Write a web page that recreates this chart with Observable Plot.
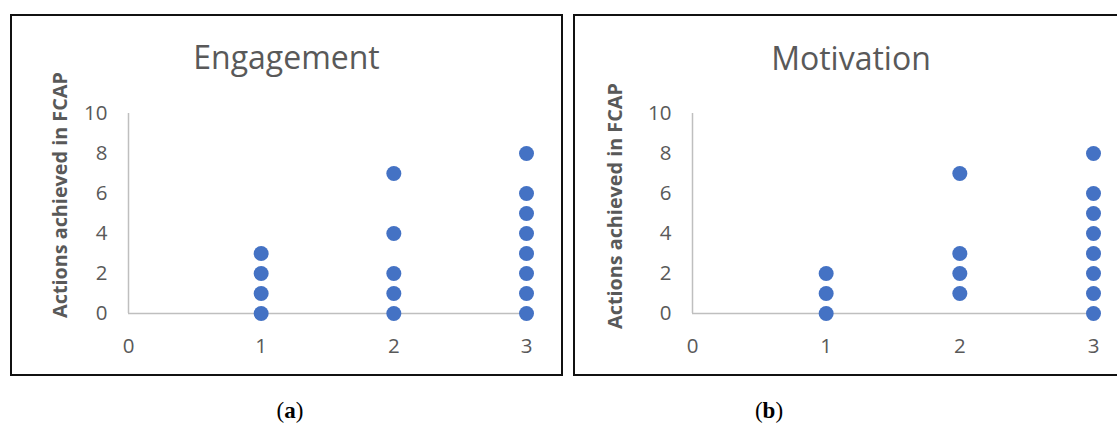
<!DOCTYPE html>
<html>
<head>
<meta charset="utf-8">
<script src="https://cdn.jsdelivr.net/npm/d3@7"></script>
<script src="https://cdn.jsdelivr.net/npm/@observablehq/plot@0.6"></script>
<style>
  html, body { margin: 0; padding: 0; background: #fff; overflow: hidden; }
  #page { position: relative; width: 1117px; height: 424px; }
  .panel { position: absolute; }
  .border { position: absolute; box-sizing: border-box; border: 2px solid #111; pointer-events: none; z-index: 3; }
  #overlay { position: absolute; left: 0; top: 0; z-index: 2; pointer-events: none; }
</style>
</head>
<body>
<div id="page"></div>
<script>
// ---- data ----
const panelTitles = ["Engagement", "Motivation"];
const panelCaptions = ["a", "b"];
const yAxisTitle = "Actions achieved in FCAP";
const xTicks = [0, 1, 2, 3];
const yTicks = [0, 2, 4, 6, 8, 10];

const engagementX = [1, 1, 1, 1, 2, 2, 2, 2, 2, 3, 3, 3, 3, 3, 3, 3, 3];
const engagementY = [0, 1, 2, 3, 0, 1, 2, 4, 7, 0, 1, 2, 3, 4, 5, 6, 8];
const motivationX = [1, 1, 1, 2, 2, 2, 2, 3, 3, 3, 3, 3, 3, 3, 3];
const motivationY = [0, 1, 2, 1, 2, 3, 7, 0, 1, 2, 3, 4, 5, 6, 8];

const page = document.getElementById("page");
const gray = "#595959";
const dotColor = "#4472C4";
const axisColor = "#BFBFBF";

function makePlot(xs, ys, opts) {
  const data = xs.map((x, i) => ({x, y: ys[i]}));
  return Plot.plot({
    width: opts.width,
    height: opts.height,
    marginLeft: opts.marginLeft,
    marginRight: opts.marginRight,
    marginTop: opts.marginTop,
    marginBottom: opts.marginBottom,
    style: {fontFamily: "'Open Sans', sans-serif", fontSize: "20px", color: gray, background: "transparent", overflow: "visible"},
    x: {domain: [0, 3]},
    y: {domain: [0, 10]},
    marks: [
      Plot.axisX({ticks: xTicks, tickSize: 0, tickPadding: 25, fontSize: 20.5, label: null, tickFormat: d => String(d)}),
      Plot.axisY({ticks: yTicks, tickSize: 0, tickPadding: 21, fontSize: 20.5, label: null, tickFormat: d => String(d)}),
      Plot.ruleX([0], {stroke: axisColor, strokeWidth: 1.5}),
      Plot.ruleY([0], {stroke: axisColor, strokeWidth: 1.5}),
      Plot.dot(data, {x: "x", y: "y", r: 7.5, fill: dotColor, stroke: "none"})
    ]
  });
}

// Panel a
const pa = makePlot(engagementX, engagementY, {width: 563, height: 376, marginLeft: 128, marginRight: 37, marginTop: 113, marginBottom: 63});
pa.classList.add("panel");
pa.style.left = "0px"; pa.style.top = "0px";
page.appendChild(pa);

// Panel b
const pb = makePlot(motivationX, motivationY, {width: 554, height: 376, marginLeft: 129, marginRight: 24, marginTop: 113, marginBottom: 63});
pb.classList.add("panel");
pb.style.left = "563px"; pb.style.top = "0px";
page.appendChild(pb);

// Borders
const borders = [
  {left: 10, top: 14, width: 553, height: 362},
  {left: 573, top: 14, width: 560, height: 362}
];
borders.forEach(b => {
  const d = document.createElement("div");
  d.className = "border";
  d.style.left = b.left + "px"; d.style.top = b.top + "px";
  d.style.width = b.width + "px"; d.style.height = b.height + "px";
  page.appendChild(d);
});

// Overlay text (titles, y-axis titles, captions)
const svg = d3.select(page).append("svg")
  .attr("id", "overlay").attr("width", 1117).attr("height", 424);

const titlePos = [{x: 286.5, y: 69}, {x: 851, y: 70}];
const yTitlePos = [{x: 66.5, y: 195}, {x: 622, y: 206}];
const capPos = [{x: 290, y: 418}, {x: 769, y: 418}];

panelTitles.forEach((t, i) => {
  svg.append("text").attr("x", titlePos[i].x).attr("y", titlePos[i].y)
    .attr("text-anchor", "middle").attr("fill", gray)
    .style("font-family", "'Open Sans', sans-serif").style("font-size", "32px")
    .text(t);
  svg.append("text")
    .attr("transform", `translate(${yTitlePos[i].x},${yTitlePos[i].y}) rotate(-90)`)
    .attr("text-anchor", "middle").attr("fill", gray)
    .style("font-family", "'Open Sans', sans-serif").style("font-size", "19.8px").style("font-weight", "bold")
    .text(yAxisTitle);
  const cap = svg.append("text").attr("x", capPos[i].x).attr("y", capPos[i].y)
    .attr("text-anchor", "middle").attr("fill", "#000")
    .style("font-family", "'Liberation Serif', 'DejaVu Serif', serif").style("font-size", "23px");
  cap.append("tspan").text("(");
  cap.append("tspan").style("font-weight", "bold").text(panelCaptions[i]);
  cap.append("tspan").text(")");
});
</script>
</body>
</html>
